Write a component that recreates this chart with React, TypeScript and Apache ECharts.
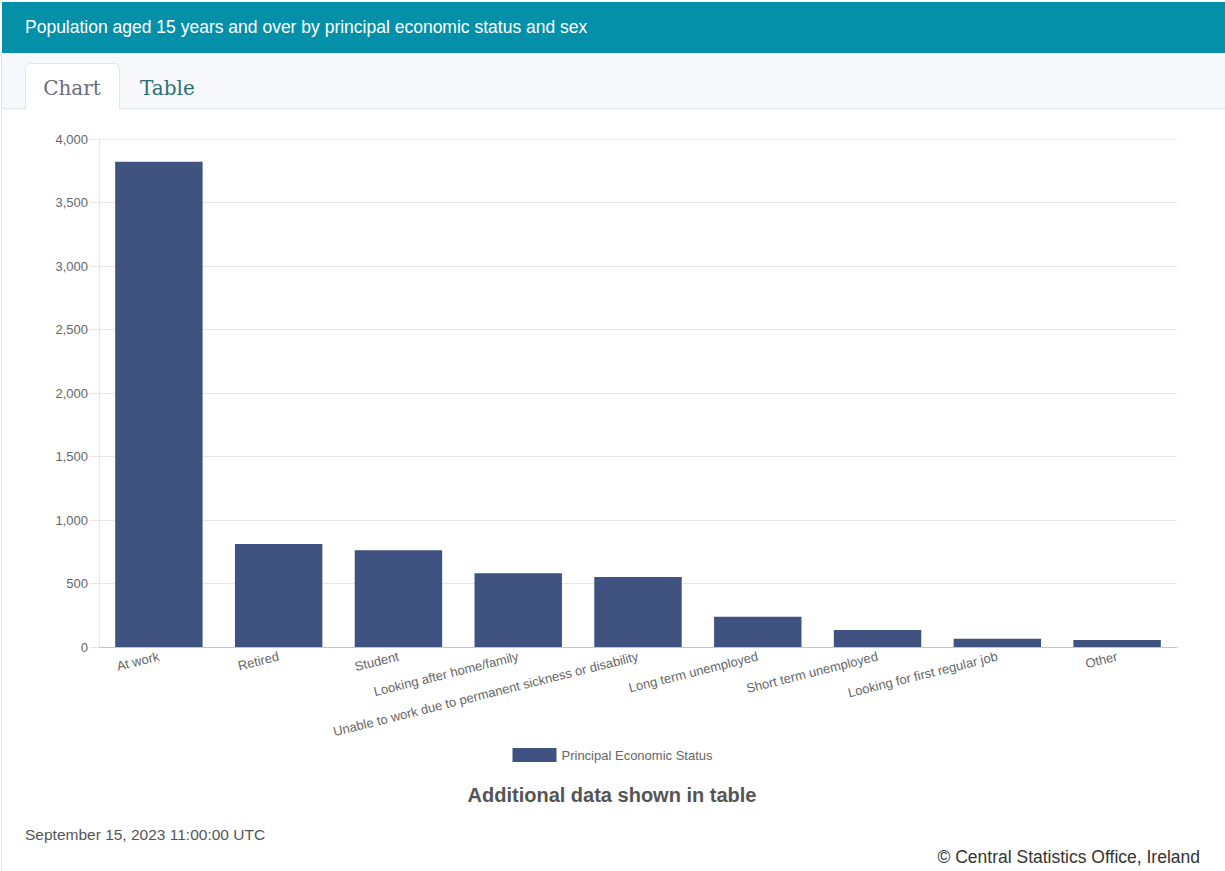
import React, { useEffect, useRef } from "react";
import * as echarts from "echarts";

// Principal economic status, population aged 15+ (thousands)
const categories: string[] = [
  "At work",
  "Retired",
  "Student",
  "Looking after home/family",
  "Unable to work due to permanent sickness or disability",
  "Long term unemployed",
  "Short term unemployed",
  "Looking for first regular job",
  "Other",
];
const statusValues: number[] = [3820, 811, 761, 580, 551, 238, 134, 65, 55];
const yTicks: number[] = [0, 500, 1000, 1500, 2000, 2500, 3000, 3500, 4000];

const seriesName = "Principal Economic Status";
const headerTitle = "Population aged 15 years and over by principal economic status and sex";
const tabLabels = ["Chart", "Table"];
const noteText = "Additional data shown in table";
const dateText = "September 15, 2023 11:00:00 UTC";
const creditText = "© Central Statistics Office, Ireland";

const SANS = "'Liberation Sans', Arial, sans-serif";
const SLAB = "'DejaVu Serif', serif";

export default function App() {
  const ref = useRef<HTMLDivElement>(null);

  useEffect(() => {
    if (!ref.current) return;
    document.body.style.margin = "0";
    const chart = echarts.init(ref.current, undefined, { renderer: "svg" });

    const option: echarts.EChartsOption = {
      animation: false,
      backgroundColor: "#ffffff",
      grid: { left: 99, right: 48, top: 139, bottom: 224, containLabel: false },
      legend: {
        data: [seriesName],
        left: "center",
        top: 743,
        itemWidth: 44,
        itemHeight: 14,
        itemGap: 8,
        icon: "rect",
        textStyle: { fontFamily: SANS, fontSize: 13, color: "#666666" },
        selectedMode: false,
      },
      xAxis: {
        type: "category",
        data: categories,
        axisLine: { show: true, lineStyle: { color: "#c4c4c4", width: 1 } },
        axisTick: { show: false },
        splitLine: { show: false },
        axisLabel: {
          rotate: 14,
          interval: 0,
          margin: 9,
          fontFamily: SANS,
          fontSize: 13,
          color: "#666666",
        },
      },
      yAxis: {
        type: "value",
        min: yTicks[0],
        max: yTicks[yTicks.length - 1],
        interval: yTicks[1] - yTicks[0],
        axisLine: { show: true, lineStyle: { color: "#e6e6e6" } },
        axisTick: { show: true, length: 9, lineStyle: { color: "#e6e6e6" } },
        splitLine: { show: true, lineStyle: { color: "#e6e6e6", width: 1 } },
        axisLabel: {
          margin: 11,
          fontFamily: SANS,
          fontSize: 13,
          color: "#666666",
          formatter: (v: number) => v.toLocaleString("en-US"),
        },
      },
      series: [
        {
          name: seriesName,
          type: "bar",
          data: statusValues,
          barCategoryGap: "27%",
          itemStyle: { color: "#3f5280" },
        },
      ],
      graphic: [
        // page frame on the left
        {
          type: "line",
          shape: { x1: 1.5, y1: 53, x2: 1.5, y2: 871 },
          style: { stroke: "#e2e2e2", lineWidth: 1 },
          silent: true,
        },
        // header band
        {
          type: "rect",
          shape: { x: 2, y: 2, width: 1223, height: 51 },
          style: { fill: "#0590aa" },
          silent: true,
        },
        {
          type: "text",
          x: 25,
          y: 27,
          style: {
            text: headerTitle,
            fill: "#ffffff",
            font: `17.5px ${SANS}`,
            textVerticalAlign: "middle",
          },
          silent: true,
        },
        // tab strip
        {
          type: "rect",
          shape: { x: 2, y: 54, width: 1223, height: 54 },
          style: { fill: "#f6f8fb" },
          silent: true,
        },
        {
          type: "line",
          shape: { x1: 2, y1: 108.5, x2: 1225, y2: 108.5 },
          style: { stroke: "#e3e6ea", lineWidth: 1.5 },
          silent: true,
        },
        {
          type: "rect",
          shape: { x: 25.5, y: 63.5, width: 94, height: 46, r: [5, 5, 0, 0] },
          style: { fill: "#ffffff", stroke: "#e3e6ea", lineWidth: 1 },
          silent: true,
        },
        {
          type: "rect",
          shape: { x: 26, y: 107, width: 93, height: 4 },
          style: { fill: "#ffffff" },
          silent: true,
        },
        {
          type: "text",
          x: 72,
          y: 88,
          style: {
            text: tabLabels[0],
            fill: "#6b6d78",
            font: `20px ${SLAB}`,
            textAlign: "center",
            textVerticalAlign: "middle",
          },
          silent: true,
        },
        {
          type: "text",
          x: 140,
          y: 88,
          style: {
            text: tabLabels[1],
            fill: "#2b6f74",
            font: `20px ${SLAB}`,
            textVerticalAlign: "middle",
          },
          silent: true,
        },
        // footer notes
        {
          type: "text",
          x: 612,
          y: 795,
          style: {
            text: noteText,
            fill: "#555555",
            font: `bold 20px ${SANS}`,
            textAlign: "center",
            textVerticalAlign: "middle",
          },
          silent: true,
        },
        {
          type: "text",
          x: 25,
          y: 834,
          style: {
            text: dateText,
            fill: "#555555",
            font: `15.5px ${SANS}`,
            textVerticalAlign: "middle",
          },
          silent: true,
        },
        {
          type: "text",
          x: 1200,
          y: 857,
          style: {
            text: creditText,
            fill: "#333333",
            font: `17.5px ${SANS}`,
            textAlign: "right",
            textVerticalAlign: "middle",
          },
          silent: true,
        },
      ],
    };

    chart.setOption(option);
    return () => chart.dispose();
  }, []);

  return (
    <div
      ref={ref}
      style={{ position: "absolute", left: 0, top: 0, width: 1225, height: 871 }}
    />
  );
}
